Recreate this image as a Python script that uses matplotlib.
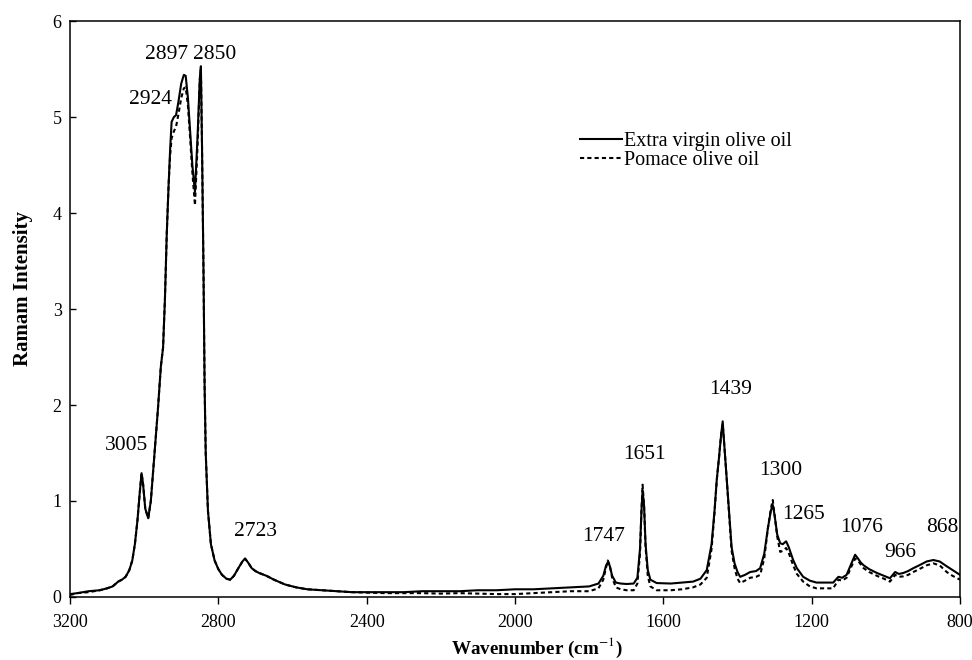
import matplotlib
matplotlib.use("Agg")
import matplotlib.pyplot as plt

# Raman spectra (wavenumber in cm-1, intensity)
wavenumber = [3200, 3180, 3150, 3120, 3100, 3085, 3070, 3060, 3050, 3040, 3032, 3025, 3018, 3012,
              3007, 3003, 2997, 2989, 2982, 2975, 2970, 2963, 2955, 2949, 2944, 2939, 2934, 2930,
              2926, 2920, 2914, 2908, 2900, 2893, 2888, 2882, 2876, 2870, 2863, 2856, 2850, 2847,
              2844, 2840, 2837, 2834, 2828, 2820, 2810, 2800, 2790, 2778, 2768, 2758, 2746, 2735,
              2728, 2720, 2710, 2700, 2690, 2670, 2650, 2620, 2590, 2560, 2520, 2480, 2440, 2400,
              2350, 2300, 2250, 2200, 2150, 2100, 2050, 2000, 1950, 1900, 1850, 1800, 1775, 1762,
              1755, 1750, 1745, 1738, 1728, 1715, 1699, 1680, 1670, 1663, 1659, 1656, 1652, 1648,
              1642, 1635, 1618, 1580, 1550, 1520, 1500, 1483, 1470, 1462, 1456, 1450, 1444, 1440,
              1436, 1429, 1422, 1416, 1408, 1400, 1393, 1380, 1366, 1350, 1339, 1328, 1318, 1310,
              1305, 1300, 1293, 1285, 1278, 1269, 1262, 1250, 1240, 1223, 1205, 1187, 1160, 1142,
              1128, 1118, 1106, 1095, 1083, 1075, 1068, 1060, 1045, 1024, 1005, 989, 975, 965,
              953, 940, 926, 910, 890, 872, 855, 836, 820, 800]

extra_virgin = [0.03, 0.04, 0.06, 0.07, 0.09, 0.11, 0.16, 0.18, 0.21, 0.28, 0.38, 0.55, 0.80, 1.08,
                1.29, 1.18, 0.92, 0.82, 1.00, 1.35, 1.60, 1.95, 2.40, 2.60, 3.10, 3.79, 4.30, 4.66,
                4.95, 5.00, 5.02, 5.15, 5.35, 5.44, 5.43, 5.20, 4.85, 4.50, 4.22, 4.80, 5.40, 5.53,
                4.70, 3.40, 2.20, 1.50, 0.90, 0.55, 0.38, 0.29, 0.23, 0.19, 0.18, 0.22, 0.30, 0.37,
                0.40, 0.36, 0.30, 0.27, 0.25, 0.22, 0.18, 0.13, 0.10, 0.08, 0.07, 0.06, 0.05, 0.05,
                0.05, 0.05, 0.06, 0.06, 0.06, 0.07, 0.07, 0.08, 0.08, 0.09, 0.10, 0.11, 0.14, 0.22,
                0.32, 0.36, 0.33, 0.22, 0.15, 0.14, 0.135, 0.14, 0.20, 0.50, 0.90, 1.11, 0.95, 0.55,
                0.28, 0.18, 0.145, 0.14, 0.15, 0.16, 0.19, 0.28, 0.55, 0.90, 1.22, 1.45, 1.70, 1.83,
                1.60, 1.22, 0.85, 0.52, 0.35, 0.26, 0.21, 0.23, 0.26, 0.27, 0.30, 0.45, 0.72, 0.90,
                0.96, 0.85, 0.65, 0.56, 0.55, 0.58, 0.52, 0.385, 0.30, 0.21, 0.17, 0.15, 0.15, 0.15,
                0.21, 0.20, 0.23, 0.33, 0.44, 0.40, 0.36, 0.33, 0.29, 0.25, 0.22, 0.195, 0.26, 0.24,
                0.25, 0.27, 0.30, 0.33, 0.37, 0.385, 0.37, 0.32, 0.28, 0.23]

pomace = [0.02, 0.04, 0.05, 0.07, 0.09, 0.11, 0.16, 0.18, 0.21, 0.28, 0.38, 0.55, 0.80, 1.08,
          1.29, 1.18, 0.92, 0.82, 1.00, 1.35, 1.60, 1.95, 2.40, 2.60, 3.10, 3.79, 4.30, 4.60,
          4.78, 4.85, 4.90, 5.02, 5.20, 5.30, 5.31, 5.12, 4.78, 4.42, 4.08, 4.70, 5.38, 5.50,
          4.70, 3.40, 2.20, 1.50, 0.90, 0.55, 0.38, 0.29, 0.23, 0.19, 0.18, 0.22, 0.30, 0.37,
          0.40, 0.36, 0.30, 0.27, 0.25, 0.22, 0.18, 0.13, 0.10, 0.08, 0.07, 0.06, 0.05, 0.045,
          0.04, 0.04, 0.04, 0.035, 0.04, 0.035, 0.03, 0.03, 0.04, 0.05, 0.06, 0.06, 0.09, 0.18,
          0.30, 0.38, 0.34, 0.20, 0.10, 0.08, 0.07, 0.07, 0.14, 0.45, 0.90, 1.17, 0.95, 0.52,
          0.22, 0.11, 0.07, 0.07, 0.08, 0.10, 0.13, 0.20, 0.50, 0.88, 1.22, 1.45, 1.70, 1.80,
          1.60, 1.22, 0.82, 0.48, 0.30, 0.19, 0.145, 0.17, 0.20, 0.21, 0.23, 0.40, 0.72, 0.92,
          1.01, 0.85, 0.63, 0.47, 0.48, 0.51, 0.46, 0.33, 0.24, 0.16, 0.11, 0.09, 0.09, 0.09,
          0.18, 0.17, 0.20, 0.30, 0.40, 0.38, 0.34, 0.30, 0.26, 0.22, 0.19, 0.16, 0.23, 0.21,
          0.215, 0.23, 0.26, 0.29, 0.33, 0.35, 0.33, 0.26, 0.22, 0.18]

# peak labels: text, x (cm-1), y (intensity)
peak_labels = ["3005", "2924", "2897", "2850", "2723", "1747", "1651", "1439",
               "1300", "1265", "1076", "966", "868"]
label_x = [3047, 2984, 2939, 2809, 2701, 1760, 1652, 1418, 1283, 1223, 1065, 962, 849]
label_y = [1.575, 5.18, 5.65, 5.65, 0.68, 0.63, 1.48, 2.16, 1.32, 0.86, 0.72, 0.46, 0.72]

plt.rcParams['font.family'] = ['Liberation Serif', 'DejaVu Serif']
plt.rcParams['mathtext.fontset'] = 'stix'

fig = plt.figure(figsize=(9.72, 6.6), dpi=100)
ax = fig.add_axes([0.072, 0.0955, 0.9157, 0.8725])

ax.plot(wavenumber, extra_virgin, color='black', lw=1.5, label='Extra virgin olive oil')
ax.plot(wavenumber, pomace, color='black', lw=1.5, linestyle=(0, (2, 1.5)),
        label='Pomace olive oil')

for txt, x, y in zip(peak_labels, label_x, label_y):
    ax.text(x, y, txt, fontsize=15.5, ha='center', va='center')

ax.set_xlim(3200, 800)
ax.set_ylim(0, 6)
ax.set_xticks([3200, 2800, 2400, 2000, 1600, 1200, 800])
ax.set_yticks(range(0, 7))
ax.tick_params(axis='x', direction='out', length=5, width=1, labelsize=13, pad=7)
ax.tick_params(axis='y', direction='in', length=4, width=1, labelsize=13, pad=6)
for s in ax.spines.values():
    s.set_linewidth(1.1)

ax.set_xlabel(r'Wavenumber (cm$^{-1}$)', fontsize=13.8, fontweight='bold', va='center')
ax.xaxis.set_label_coords(0.525, -0.0885)
ax.set_ylabel('Ramam Intensity', fontsize=15, fontweight='bold', va='center')
ax.yaxis.set_label_coords(-0.053, 0.536)

ax.legend(loc='upper left', bbox_to_anchor=(580 / 972, 1 - 132 / 660),
          bbox_transform=fig.transFigure, frameon=False, fontsize=14.5,
          handlelength=2.1, handletextpad=0.1, labelspacing=0.0,
          borderpad=0, borderaxespad=0)

fig.savefig('out.png', dpi=100, facecolor='white')
